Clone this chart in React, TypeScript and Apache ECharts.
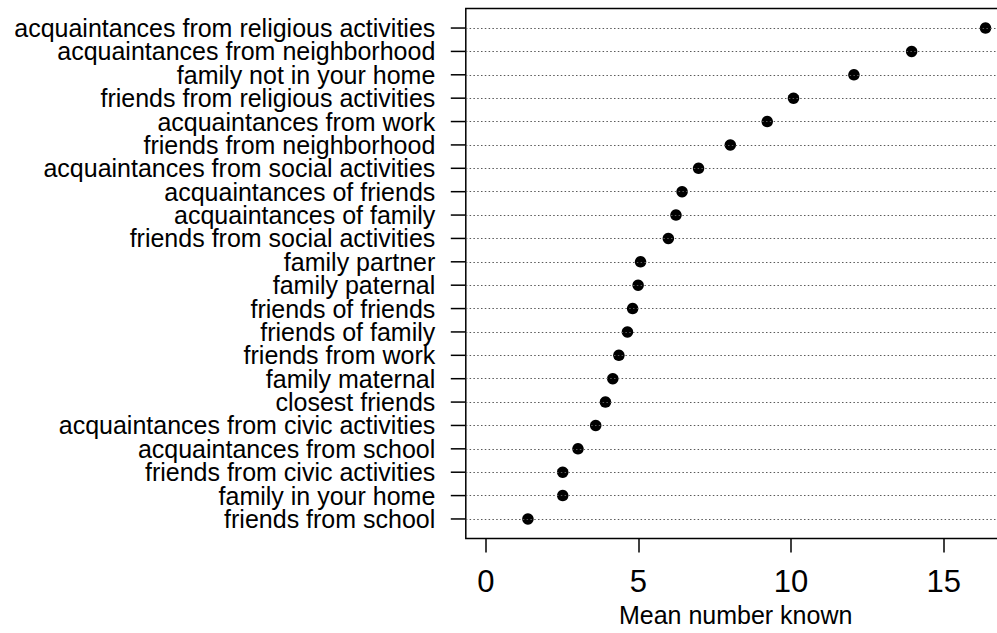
import React, { useEffect, useRef } from "react";
import * as echarts from "echarts";

// top to bottom, as drawn
const categories: string[] = [
  "acquaintances from religious activities",
  "acquaintances from neighborhood",
  "family not in your home",
  "friends from religious activities",
  "acquaintances from work",
  "friends from neighborhood",
  "acquaintances from social activities",
  "acquaintances of friends",
  "acquaintances of family",
  "friends from social activities",
  "family partner",
  "family paternal",
  "friends of friends",
  "friends of family",
  "friends from work",
  "family maternal",
  "closest friends",
  "acquaintances from civic activities",
  "acquaintances from school",
  "friends from civic activities",
  "family in your home",
  "friends from school",
];

const meanKnown: number[] = [
  16.37, 13.95, 12.06, 10.08, 9.22, 8.01, 6.97, 6.43, 6.23, 5.98, 5.07, 4.99,
  4.81, 4.64, 4.36, 4.16, 3.92, 3.6, 3.02, 2.52, 2.52, 1.38,
];

const xTicks: number[] = [0, 5, 10, 15];
const xAxisTitle = "Mean number known";

export default function App() {
  const ref = useRef<HTMLDivElement>(null);

  useEffect(() => {
    if (!ref.current) return;
    const chart = echarts.init(ref.current, undefined, { renderer: "svg" });
    const n = categories.length;
    const rowPos = categories.map((_, i) => n - i);
    const font = "'Liberation Sans', Arial, Helvetica, sans-serif";
    const xMax = Math.max(...meanKnown);
    const xPad = 0.04 * xMax;
    const yPad = 0.04 * (n - 1);
    const xMin = -xPad;

    chart.setOption({
      animation: false,
      backgroundColor: "#ffffff",
      grid: {
        left: 465.8,
        top: 8.4,
        width: 539.7,
        height: 530.2,
        show: true,
        borderColor: "#000",
        borderWidth: 1.5,
        backgroundColor: "transparent",
        containLabel: false,
      },
      xAxis: {
        type: "value",
        min: xMin,
        max: xMax + xPad,
        name: xAxisTitle,
        nameLocation: "middle",
        nameGap: 64,
        nameTextStyle: { color: "#000", fontSize: 25, fontFamily: font },
        axisLine: { show: false, onZero: false },
        splitLine: { show: false },
        axisTick: {
          show: true,
          inside: false,
          length: 14,
          customValues: xTicks,
          lineStyle: { color: "#000", width: 1.5 },
        },
        axisLabel: {
          show: true,
          margin: 27,
          customValues: xTicks,
          showMinLabel: true,
          showMaxLabel: true,
          color: "#000",
          fontSize: 31,
          fontFamily: font,
          formatter: (v: number) => String(v),
        },
      },
      yAxis: {
        type: "value",
        min: 1 - yPad,
        max: n + yPad,
        axisLine: { show: false, onZero: false },
        splitLine: { show: false },
        axisTick: { show: false },
        axisLabel: { show: false },
      },
      series: [
        {
          // dotted reference lines
          type: "scatter",
          data: [],
          z: 1,
          silent: true,
          markLine: {
            silent: true,
            symbol: ["none", "none"],
            label: { show: false },
            emphasis: { disabled: true },
            lineStyle: { color: "#5a5a5a", width: 1.1, type: [1.5, 2.3], opacity: 1 },
            data: rowPos.map((y) => ({ yAxis: y })),
          },
        },
        {
          // y-axis tick marks
          type: "scatter",
          z: 2,
          silent: true,
          clip: false,
          symbol: "rect",
          symbolSize: [15, 1.5],
          symbolOffset: [-7.5, 0],
          itemStyle: { color: "#000", opacity: 1 },
          emphasis: { disabled: true },
          data: rowPos.map((y) => [xMin, y]),
        },
        {
          // y-axis category labels
          type: "scatter",
          z: 2,
          silent: true,
          clip: false,
          symbol: "circle",
          symbolSize: 1,
          itemStyle: { color: "rgba(0,0,0,0)" },
          emphasis: { disabled: true },
          label: {
            show: true,
            position: "left",
            distance: 30,
            color: "#000",
            opacity: 1,
            fontSize: 25,
            lineHeight: 21,
            fontFamily: font,
            formatter: (p: any) => categories[p.dataIndex],
          },
          data: rowPos.map((y) => [xMin, y]),
        },
        {
          type: "scatter",
          z: 3,
          symbol: "circle",
          symbolSize: 11.5,
          itemStyle: { color: "#000", opacity: 1 },
          data: meanKnown.map((v, i) => [v, rowPos[i]]),
        },
      ],
    });
    return () => chart.dispose();
  }, []);

  return (
    <div
      style={{
        position: "fixed",
        left: 0,
        top: 0,
        width: 997,
        height: 633,
        overflow: "hidden",
        background: "#fff",
      }}
    >
      <div ref={ref} style={{ width: 1010, height: 633 }} />
    </div>
  );
}
